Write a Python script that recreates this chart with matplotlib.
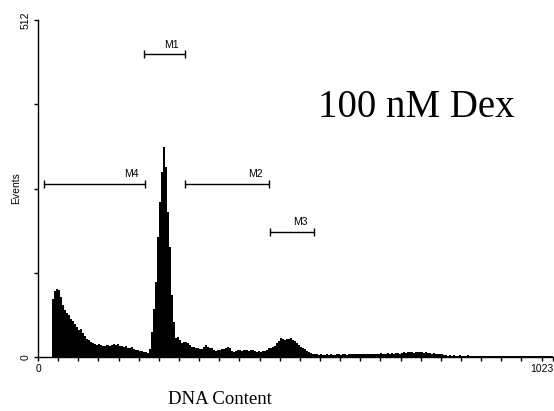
"""
DNA content histogram (flow cytometry) - 100 nM Dex, with markers M1-M4.
Output: out.png
"""
import numpy as np
import matplotlib
matplotlib.use("Agg")
import matplotlib.pyplot as plt

# ----------------------------- Data -----------------------------------------
# counts per 4-channel bin (1024 channels -> 256 bins)
BIN_WIDTH = 4
counts = [
    0, 0, 0, 0, 0, 0, 0, 88, 100, 103, 102, 91, 79, 71, 67, 64,
    58, 55, 50, 46, 41, 43, 36, 32, 27, 26, 23, 21, 20, 18, 20, 18,
    17, 17, 18, 17, 18, 20, 18, 20, 17, 17, 15, 17, 14, 14, 15, 12,
    11, 11, 9, 9, 8, 8, 6, 12, 38, 73, 114, 182, 235, 281, 319, 289,
    220, 167, 94, 53, 29, 30, 26, 21, 23, 23, 21, 18, 15, 15, 14, 14,
    12, 12, 15, 18, 15, 14, 14, 11, 9, 11, 11, 12, 12, 14, 15, 14,
    9, 8, 9, 11, 11, 9, 11, 11, 9, 11, 11, 9, 8, 9, 8, 9,
    9, 11, 14, 14, 15, 17, 21, 24, 29, 27, 26, 27, 27, 29, 26, 24,
    21, 18, 15, 14, 12, 9, 8, 6, 5, 5, 4, 3, 4, 3, 3, 4,
    3, 4, 3, 3, 4, 4, 3, 4, 4, 3, 4, 4, 5, 4, 4, 5,
    4, 4, 5, 4, 5, 5, 4, 5, 5, 5, 6, 5, 5, 6, 5, 6,
    5, 6, 6, 5, 6, 7, 6, 7, 8, 7, 6, 7, 7, 8, 7, 6,
    7, 6, 6, 5, 6, 5, 5, 4, 4, 3, 3, 2, 3, 2, 3, 2,
    2, 3, 2, 2, 2, 3, 2, 2, 2, 1, 2, 2, 2, 2, 2, 1,
    2, 2, 2, 2, 2, 1, 2, 2, 2, 2, 1, 2, 2, 2, 2, 2,
    2, 1, 2, 2, 2, 1, 2, 2, 2, 1, 2, 2, 1, 2, 1, 1,
]

# markers (gates)
marker_names = ["M1", "M2", "M3", "M4"]
marker_lo = [211, 292, 461, 12]
marker_hi = [292, 459, 548, 212]
marker_level = [460, 263, 190, 263]

x_ticklabels = ["0", "1023"]
y_ticklabels = ["0", "", "", "", "512"]

SANS = ["Liberation Sans Narrow", "Liberation Sans", "DejaVu Sans"]
SERIF = ["Liberation Serif", "DejaVu Serif"]

# ----------------------------- Figure ---------------------------------------
fig = plt.figure(figsize=(5.54, 4.11), dpi=100)
ax = fig.add_axes([0.0686, 0.1314, 0.9300, 0.8199])

edges = np.arange(len(counts) + 1) * BIN_WIDTH
ax.stairs(counts, edges, fill=True, color="black", linewidth=0)

# markers with end caps
for name, lo, hi, lev in zip(marker_names, marker_lo, marker_hi, marker_level):
    mid = (lo + hi) / 2
    ax.errorbar(mid, lev, xerr=(hi - lo) / 2, fmt="none", ecolor="black",
                elinewidth=1.0, capsize=3.0, capthick=1.0)
    ax.text(hi - 27, lev + 7, name, ha="center", va="bottom",
            fontsize=7.5, family=SANS)

ax.set_xlim(0, 1023)
ax.set_ylim(0, 512)

ax.set_xticks([0, 1023])
ax.set_xticklabels(x_ticklabels, family=SANS, fontsize=7.5)
ax.get_xticklabels()[-1].set_horizontalalignment("right")
ax.set_xticks(np.arange(40, 1023, 40), minor=True)

ax.set_yticks([0, 128, 256, 384, 512])
ax.set_yticklabels(y_ticklabels, family=SANS, fontsize=7.5,
                   rotation=90, va="center")

ax.tick_params(axis="both", which="both", direction="out", length=3,
               width=1.0, pad=2, color="black")
for s in ["top", "right"]:
    ax.spines[s].set_visible(False)
for s in ["left", "bottom"]:
    ax.spines[s].set_linewidth(1.0)

ax.set_ylabel("Events", family=SANS, fontsize=7.5)
ax.yaxis.set_label_coords(-0.033, 0.5)

fig.text(220 / 554, 1 - 399 / 411, "DNA Content", ha="center", va="center",
         family=SERIF, fontsize=13.5)
fig.text(318 / 554, 1 - 117 / 411, "100 nM Dex", ha="left", va="baseline",
         family=SERIF, fontsize=28)

fig.savefig("out.png", dpi=100, facecolor="white")
